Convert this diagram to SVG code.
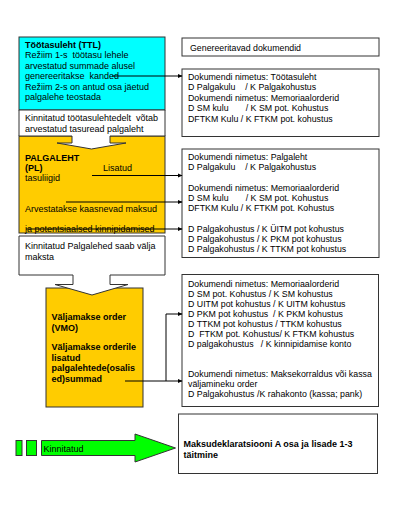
<svg xmlns="http://www.w3.org/2000/svg" width="408" height="514" viewBox="0 0 408 514" xml:space="preserve">
<style>
text{font-family:"Liberation Sans",Arial,sans-serif;fill:#000;white-space:pre}
.l{font-size:9px}
.r{font-size:8.8px}
.b{font-weight:bold}
.box{stroke:#333;stroke-width:1}
.con{fill:none;stroke:#000;stroke-width:1}
</style>
<defs>
<marker id="ah" markerWidth="5" markerHeight="5" refX="4" refY="2.5" orient="auto" markerUnits="userSpaceOnUse">
<path d="M0,0.5 L4.5,2.5 L0,4.5 Z" fill="#000"/>
</marker>
</defs>
<rect width="408" height="514" fill="#fff"/>

<g id="ttl">
<rect class="box" x="19" y="37" width="146" height="73" fill="#00FFFF"/>
<text class="l b" x="25" y="48">Töötasuleht (TTL)</text>
<text class="l" x="25" y="58.4">Režiim 1-s  töötasu lehele</text>
<text class="l" x="25" y="68.8">arvestatud summade alusel</text>
<text class="l" x="25" y="79.2">genereeritakse  kanded</text>
<text class="l" x="25" y="89.6">Režiim 2-s on antud osa jäetud</text>
<text class="l" x="25" y="100">palgalehe teostada</text>
</g>

<g id="pl">
<rect class="box" x="19" y="136" width="146" height="97" fill="#FFCC00"/>
<text class="l b" x="25" y="160.5">PALGALEHT</text>
<text class="l b" x="25" y="171">(PL)</text>
<text class="l" x="103" y="171">Lisatud</text>
<text class="l" x="25" y="181">tasuliigid</text>
<text class="l" x="25" y="211.5">Arvestatakse kaasnevad maksud</text>
<text class="l" x="25" y="231.5">ja potentsiaalsed kinnipidamised</text>
</g>

<g id="callout1">
<path class="box" fill="#fff" d="M19,110 H165 V136 H110 V143 H126 L91.5,149 L57,143 H72 V136 H19 Z"/>
<text class="l" x="25" y="121">Kinnitatud töötasulehtedelt  võtab</text>
<text class="l" x="25" y="131.5">arvestatud tasuread palgaleht</text>
</g>

<g id="vmo">
<rect class="box" x="46" y="288" width="97" height="119" fill="#FFCC00"/>
<text class="l b" x="51.5" y="320">Väljamakse order</text>
<text class="l b" x="51.5" y="330.5">(VMO)</text>
<text class="l b" x="51.5" y="350">Väljamakse orderile</text>
<text class="l b" x="51.5" y="360.5">lisatud</text>
<text class="l b" x="51.5" y="371">palgalehtede(osalis</text>
<text class="l b" x="51.5" y="381.5">ed)summad</text>
</g>

<g id="callout2">
<path class="box" fill="#fff" d="M19,236 H165 V275 H110 V284.5 H128 L92,295 L55,284.5 H73 V275 H19 Z"/>
<text class="l" x="25" y="249">Kinnitatud Palgalehed saab välja</text>
<text class="l" x="25" y="259.5">maksta</text>
</g>

<g id="gen">
<rect class="box" x="182" y="38" width="197" height="18" fill="#fff"/>
<text class="r" x="190" y="50.5">Genereeritavad dokumendid</text>
</g>

<g id="doc1">
<rect class="box" x="182" y="69" width="197" height="67.5" fill="#fff"/>
<text class="r" x="188" y="79.5">Dokumendi nimetus: Töötasuleht</text>
<text class="r" x="188" y="90">D Palgakulu    / K Palgakohustus</text>
<text class="r" x="188" y="100.5">Dokumendi nimetus: Memoriaalorderid</text>
<text class="r" x="188" y="111">D SM kulu       / K SM pot. Kohustus</text>
<text class="r" x="188" y="121.5">DFTKM Kulu / K FTKM pot. kohustus</text>
</g>

<g id="doc2">
<rect class="box" x="182" y="149" width="197" height="108.5" fill="#fff"/>
<text class="r" x="188" y="159.5">Dokumendi nimetus: Palgaleht</text>
<text class="r" x="188" y="170">D Palgakulu    / K Palgakohustus</text>
<text class="r" x="188" y="190.5">Dokumendi nimetus: Memoriaalorderid</text>
<text class="r" x="188" y="201">D SM kulu       / K SM pot. Kohustus</text>
<text class="r" x="188" y="211">DFTKM Kulu / K FTKM pot. Kohustus</text>
<text class="r" x="188" y="231.5">D Palgakohustus / K ÜITM pot kohustus</text>
<text class="r" x="188" y="242">D Palgakohustus / K PKM pot kohustus</text>
<text class="r" x="188" y="252">D Palgakohustus / K TTKM pot kohustus</text>
</g>

<g id="doc3">
<rect class="box" x="182" y="274.5" width="196.5" height="132" fill="#fff"/>
<text class="r" x="188" y="286.5">Dokumendi nimetus: Memoriaalorderid</text>
<text class="r" x="188" y="296.5">D SM pot. Kohustus / K SM kohustus</text>
<text class="r" x="188" y="306.5">D UITM pot kohustus / K UITM kohustus</text>
<text class="r" x="188" y="316.5">D PKM pot kohustus  / K PKM kohustus</text>
<text class="r" x="188" y="326.5">D TTKM pot kohustus / TTKM kohustus</text>
<text class="r" x="188" y="336.5">D  FTKM pot. Kohustus/ K FTKM kohustus</text>
<text class="r" x="188" y="347">D palgakohustus   / K kinnipidamise konto</text>
<text class="r" x="188" y="377">Dokumendi nimetus: Maksekorraldus või kassa</text>
<text class="r" x="188" y="387">väljamineku order</text>
<text class="r" x="188" y="397">D Palgakohustus /K rahakonto (kassa; pank)</text>
</g>

<g id="legend">
<rect class="box" x="16" y="440.5" width="6" height="15" fill="#00FF00"/>
<rect class="box" x="26.5" y="440.5" width="10" height="15" fill="#00FF00"/>
<path class="box" fill="#00FF00" d="M41.5,440.5 H135 V434 L175.5,448 L135,462 V455.5 H41.5 Z"/>
<text class="l" x="43.5" y="451.5">Kinnitatud</text>
</g>

<g id="final">
<rect class="box" x="178.5" y="414" width="199" height="59.5" fill="#fff"/>
<text class="l b" x="183.5" y="447">Maksudeklaratsiooni A osa ja lisade 1-3</text>
<text class="l b" x="183.5" y="457.5">täitmine</text>
</g>

<g id="connectors">
<path class="con" marker-end="url(#ah)" d="M112,76 H182"/>
<path class="con" marker-end="url(#ah)" d="M92,175.5 H182"/>
<path class="con" marker-end="url(#ah)" d="M66,202 H182"/>
<path class="con" marker-end="url(#ah)" d="M26,229 H182"/>
<path class="con" marker-end="url(#ah)" d="M125,381 H182"/>
<path class="con" marker-end="url(#ah)" d="M166,381 V314 H182"/>
</g>
</svg>
